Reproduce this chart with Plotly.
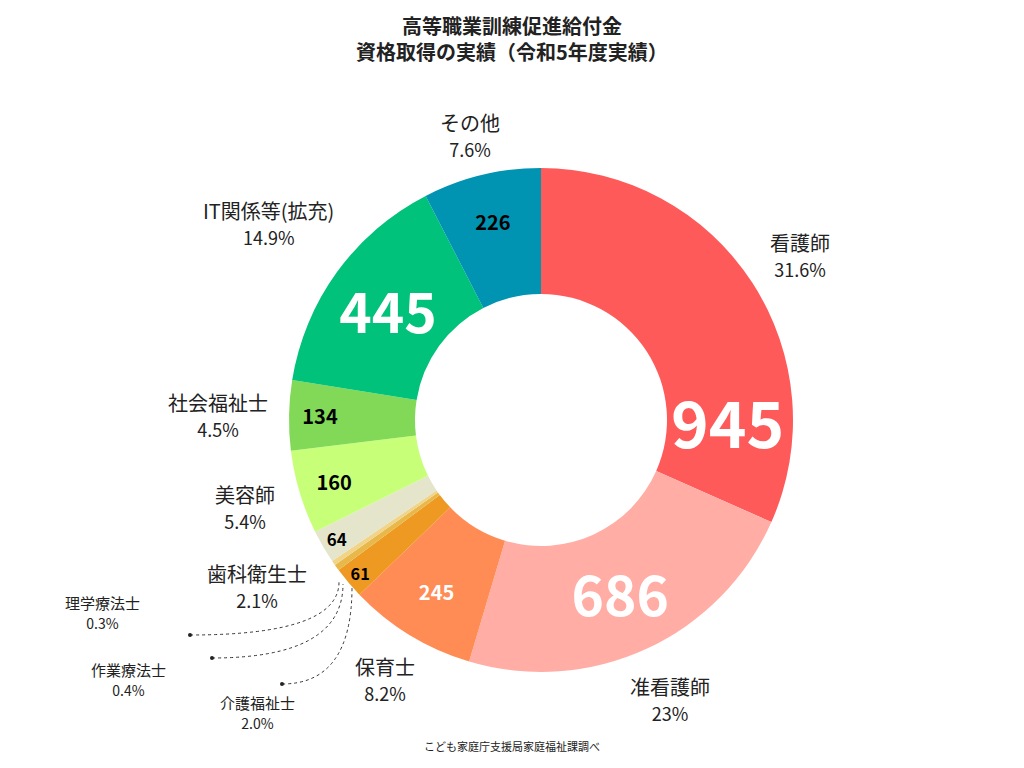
import plotly.graph_objects as go

labels = ["看護師","准看護師","保育士","介護福祉士","作業療法士","理学療法士","歯科衛生士","美容師","社会福祉士","IT関係等(拡充)","その他"]
values = [945,686,245,61,12,9,64,160,134,445,226]
pcts = ["31.6%","23%","8.2%","2.0%","0.4%","0.3%","2.1%","5.4%","4.5%","14.9%","7.6%"]
colors = ["#FF5A5A","#FFADA5","#FF8C55","#EE9A22","#E8B84A","#F2D488","#E5E5CC","#C8FF78","#82D958","#00C27A","#0093B2"]
inner_text = ["945","686","245","61","","","64","160","134","445","226"]
inner_size = [64,60,20,20,10,10,20,20,20,56,20]
inner_color = ["white","white","white","black","black","black","black","black","black","white","black"]

F = "Noto Sans CJK JP"
W, H = 1024, 768
DX, DY = -8, -6
def px(x): return (x + DX) / W
def py(y): return 1 - (y + DY) / H

fig = go.Figure(go.Pie(
    labels=labels, values=values, text=[f"<b>{t}</b>" if t else "" for t in inner_text], textinfo="text",
    hole=0.5, sort=False, direction="clockwise", rotation=0,
    marker=dict(colors=colors, line=dict(width=0)),
    textposition="inside", insidetextorientation="horizontal",
    insidetextfont=dict(size=inner_size, color=inner_color, family=F),
    domain=dict(x=[px(289), px(793)], y=[py(670), py(166)]), showlegend=False, hoverinfo="label+value"))

ann = []
def lab(x, y, t, p, s=20, s2=18):
    ann.append(dict(x=px(x), y=py(y), xref="paper", yref="paper", showarrow=False,
                    xanchor="center", yanchor="middle",
                    text=f"{t}<br><span style='font-size:{s2}px'>{p}</span>",
                    font=dict(size=s, family=F, color="#222"), align="center"))
lab(800,253,labels[0],pcts[0])
lab(670,697,labels[1],pcts[1])
lab(385,677,labels[2],pcts[2])
lab(257,710,labels[3],pcts[3],15,14)
lab(128,677,labels[4],pcts[4],15,14)
lab(102,610,labels[5],pcts[5],15,14)
lab(257,584,labels[6],pcts[6])
lab(245,505,labels[7],pcts[7])
lab(218,413,labels[8],pcts[8])
lab(268,221,labels[9],pcts[9])
lab(470,133,labels[10],pcts[10])
ann.append(dict(x=px(512), y=py(36), xref="paper", yref="paper", showarrow=False,
    xanchor="center", yanchor="middle",
    text="<b>高等職業訓練促進給付金<br>資格取得の実績（令和5年度実績）</b>",
    font=dict(size=20, family=F, color="#222"), align="center"))
ann.append(dict(x=px(512), y=py(744), xref="paper", yref="paper", showarrow=False,
    xanchor="center", yanchor="middle",
    text="こども家庭庁支援局家庭福祉課調べ", font=dict(size=11, family=F, color="#222")))

shapes = []
for (x0,y0,x1,y1) in [(282,682,352,585),(212,656,343,582),(190,633,339,580)]:
    shapes.append(dict(type="path", xref="paper", yref="paper",
        path=f"M {px(x0)},{py(y0)} Q {px(x1)},{py(y0)} {px(x1)},{py(y1)}",
        line=dict(color="#333", width=1, dash="dot")))
    shapes.append(dict(type="circle", xref="paper", yref="paper",
        x0=px(x0-2), x1=px(x0+2), y0=py(y0+2), y1=py(y0-2), fillcolor="#222", line=dict(width=0)))

fig.update_layout(width=W, height=H, margin=dict(l=0,r=0,t=0,b=0), paper_bgcolor="white",
                  annotations=ann, shapes=shapes, font=dict(family=F))
fig.write_html("out.html")
